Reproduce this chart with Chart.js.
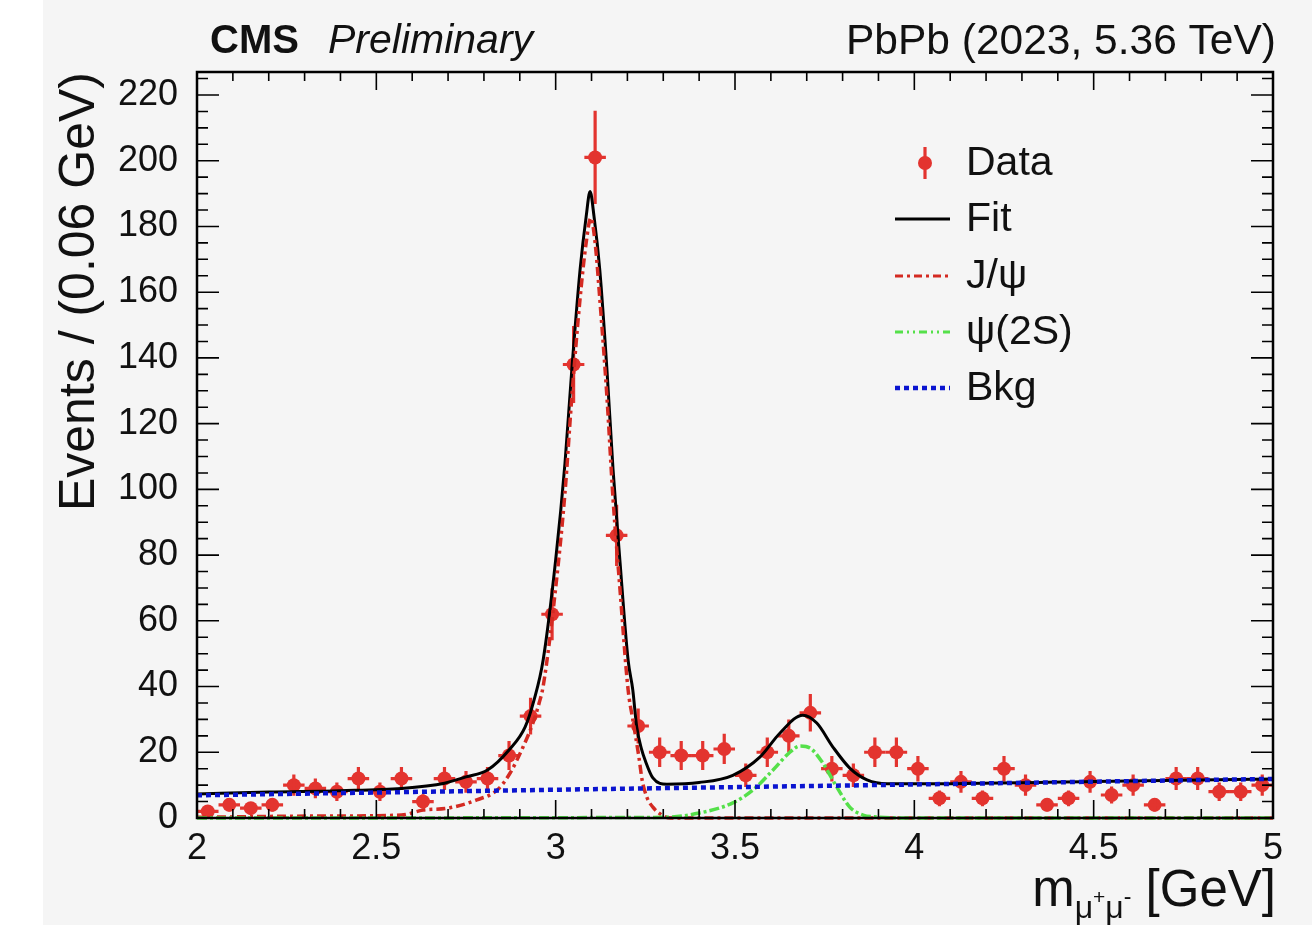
<!DOCTYPE html>
<html><head><meta charset="utf-8">
<script src="https://cdn.jsdelivr.net/npm/chart.js@4.4.0/dist/chart.umd.min.js"></script>
<style>
html,body{margin:0;padding:0;background:#fff;}
canvas{display:block;}
</style></head><body>
<canvas id="c" width="1312" height="925"></canvas>
<script>
// ---- data ----
const binCenters = [2.03,2.09,2.15,2.21,2.27,2.33,2.39,2.45,2.51,2.57,2.63,2.69,2.75,2.81,2.87,2.93,2.99,3.05,3.11,3.17,3.23,3.29,3.35,3.41,3.47,3.53,3.59,3.65,3.71,3.77,3.83,3.89,3.95,4.01,4.07,4.13,4.19,4.25,4.31,4.37,4.43,4.49,4.55,4.61,4.67,4.73,4.79,4.85,4.91,4.97];
const dataCounts = [2,4,3,4,10,9,8,12,8,12,5,12,11,12,19,31,62,138,201,86,28,20,19,19,21,13,20,25,32,15,13,20,20,15,6,11,6,15,10,4,6,11,7,10,4,12,12,8,8,10];
const dataErrors = [1.4,2,1.7,2,3.2,3,2.8,3.5,2.8,3.5,2.2,3.5,3.3,3.5,4.4,5.6,7.9,11.7,14.2,9.3,5.3,4.5,4.4,4.4,4.6,3.6,4.5,5,5.7,3.9,3.6,4.5,4.5,3.9,2.4,3.3,2.4,3.9,3.2,2,2.4,3.3,2.6,3.2,2,3.5,3.5,2.8,2.8,3.2];
const binHalfWidth = 0.03;

const fitX = [2.00,2.20,2.40,2.57,2.69,2.75,2.81,2.87,2.915,2.94,2.965,3.00,3.026,3.045,3.068,3.085,3.096,3.107,3.123,3.143,3.160,3.179,3.202,3.215,3.226,3.240,3.249,3.271,3.31,3.40,3.494,3.57,3.625,3.689,3.728,3.773,3.82,3.868,3.924,4.00,4.50,5.00];
const fitY = [7.3,7.9,8.3,9.0,10.6,12.5,14.6,20.7,27.7,36,48,78.5,108,136.4,166.8,183,190.6,183,166.8,136.4,106,78.5,48,39,27.7,20.7,17.7,12.2,10.3,10.8,13,18.6,25.8,31.3,28.9,21.6,15.2,11.6,10.4,10.4,11.1,11.9];

const jpsiX = [2.00,2.33,2.57,2.63,2.70,2.78,2.837,2.873,2.909,2.937,2.954,2.965,3.00,3.026,3.045,3.068,3.085,3.098,3.110,3.123,3.143,3.160,3.179,3.202,3.215,3.232,3.241,3.254,3.271,3.296,3.32,4.00,5.00];
const jpsiY = [0.2,0.6,0.9,2.4,3.0,5.5,8.5,13.7,21.6,29,35,40,70,99,128,158,175,182.6,175,158,128,97,70,39,30,18.6,11.6,6.4,3.3,0.9,0,0,0];

const psiX = [2.00,3.30,3.40,3.494,3.55,3.606,3.653,3.681,3.709,3.745,3.784,3.82,3.857,3.896,4.00,5.00];
const psiY = [0,0.2,1.5,4.6,8.5,14.6,20,21.9,21.3,16.7,9.4,3.3,0.9,0.3,0,0];

const bkgX = [2,3,4,5];
const bkgY = [6.9,8.6,10.2,11.9];

const xTickValues = [2,2.5,3,3.5,4,4.5,5];
const yTickValues = [0,20,40,60,80,100,120,140,160,180,200,220];
const legendLabels = ['Data','Fit','J/\u03C8','\u03C8(2S)','Bkg'];

// ---- styles ----
const FONT = '"Liberation Sans", Arial, Helvetica, sans-serif';
const RED = '#e3342f';
const JPSI_C = '#d42a22';
const GREEN = '#55e04a';
const BLUE = '#0a14d0';
const BG = '#f5f5f5';

const pts = (xs, ys) => xs.map((x, i) => ({x, y: ys[i]}));

const bgPlugin = {
  id: 'bg',
  beforeDraw(chart) {
    const c = chart.ctx;
    c.save();
    c.fillStyle = '#ffffff';
    c.fillRect(0, 0, chart.width, chart.height);
    c.fillStyle = BG;
    c.fillRect(43, 0, chart.width - 43, chart.height);
    c.restore();
  }
};

const errPlugin = {
  id: 'errbars',
  afterDatasetDraw(chart, args) {
    if (args.index !== 0) return;
    const c = chart.ctx, xs = chart.scales.x, ys = chart.scales.y;
    c.save();
    c.strokeStyle = RED;
    c.lineWidth = 3.2;
    binCenters.forEach((x, i) => {
      const px = xs.getPixelForValue(x), py = ys.getPixelForValue(dataCounts[i]);
      const e = dataErrors[i];
      c.beginPath();
      c.moveTo(px, ys.getPixelForValue(dataCounts[i] - e));
      c.lineTo(px, ys.getPixelForValue(dataCounts[i] + e));
      c.moveTo(xs.getPixelForValue(x - binHalfWidth), py);
      c.lineTo(xs.getPixelForValue(x + binHalfWidth), py);
      c.stroke();
    });
    c.restore();
  }
};

const framePlugin = {
  id: 'frame',
  afterDatasetsDraw(chart) {
    const c = chart.ctx, a = chart.chartArea, xs = chart.scales.x, ys = chart.scales.y;
    c.save();
    c.strokeStyle = '#000';
    c.lineWidth = 2.5;
    c.strokeRect(a.left, a.top, a.right - a.left, a.bottom - a.top);
    c.lineWidth = 1.6;
    c.beginPath();
    // x ticks (bottom and top), minor every 0.1, major every 0.5
    for (let k = 0; k <= 30; k++) {
      const v = 2 + k * 0.1;
      const px = xs.getPixelForValue(v);
      const len = (k % 5 === 0) ? 18 : 9;
      c.moveTo(px, a.bottom); c.lineTo(px, a.bottom - len);
      c.moveTo(px, a.top); c.lineTo(px, a.top + len);
    }
    // y ticks (left and right), minor every 5, major every 20
    for (let k = 0; k <= 45; k++) {
      const v = k * 5;
      const py = ys.getPixelForValue(v);
      const len = (k % 4 === 0) ? 22 : 11;
      c.moveTo(a.left, py); c.lineTo(a.left + len, py);
      c.moveTo(a.right, py); c.lineTo(a.right - len, py);
    }
    c.stroke();
    c.restore();
  }
};

const textPlugin = {
  id: 'texts',
  afterDraw(chart) {
    const c = chart.ctx;
    c.save();
    c.fillStyle = '#111';
    c.textBaseline = 'alphabetic';
    // header
    c.font = 'bold 40px ' + FONT;
    c.textAlign = 'left';
    c.fillText('CMS', 210, 53);
    c.font = 'italic 41px ' + FONT;
    c.fillText('Preliminary', 328, 53);
    c.font = '42.5px ' + FONT;
    c.textAlign = 'right';
    c.fillText('PbPb (2023, 5.36 TeV)', 1276, 54);

    // x-axis title: m_{mu+mu-} [GeV]
    const parts = [
      {t: 'm', f: '51px ', dy: 0},
      {t: '\u03BC', f: '32px ', dy: 12},
      {t: '+', f: '21px ', dy: -2},
      {t: '\u03BC', f: '32px ', dy: 12},
      {t: '-', f: '23px ', dy: -2},
      {t: ' [GeV]', f: '51px ', dy: 0}
    ];
    let total = 0;
    parts.forEach(p => { c.font = p.f + FONT; p.w = c.measureText(p.t).width; total += p.w; });
    let x = 1276 - total;
    const base = 906;
    c.textAlign = 'left';
    parts.forEach(p => { c.font = p.f + FONT; c.fillText(p.t, x, base + p.dy); x += p.w; });

    // legend
    const lx0 = 895, lx1 = 950, tx = 966;
    const rows = [163, 219, 276, 332, 388];
    c.font = '41px ' + FONT;
    c.textBaseline = 'middle';
    legendLabels.forEach((lab, i) => { c.fillText(lab, tx, rows[i] + 1); });
    // Data symbol
    c.strokeStyle = RED; c.fillStyle = RED; c.lineWidth = 3.2;
    c.beginPath(); c.moveTo(925, rows[0] - 16); c.lineTo(925, rows[0] + 16); c.stroke();
    c.beginPath(); c.arc(925, rows[0], 7, 0, Math.PI * 2); c.fill();
    // Fit
    c.strokeStyle = '#000'; c.lineWidth = 3; c.setLineDash([]);
    c.beginPath(); c.moveTo(lx0, rows[1]); c.lineTo(lx1, rows[1]); c.stroke();
    // J/psi
    c.strokeStyle = JPSI_C; c.lineWidth = 3; c.setLineDash([8, 4, 3, 4]);
    c.beginPath(); c.moveTo(lx0, rows[2]); c.lineTo(lx1, rows[2]); c.stroke();
    // psi(2S)
    c.strokeStyle = GREEN; c.setLineDash([8, 4, 2, 4, 2, 4]);
    c.beginPath(); c.moveTo(lx0, rows[3]); c.lineTo(lx1, rows[3]); c.stroke();
    // Bkg
    c.strokeStyle = BLUE; c.lineWidth = 4.5; c.setLineDash([5, 4]);
    c.beginPath(); c.moveTo(lx0, rows[4]); c.lineTo(lx1, rows[4]); c.stroke();
    c.restore();
  }
};

const curve = (label, xs, ys, color, width, dash, order) => ({
  label, data: pts(xs, ys), showLine: true, borderColor: color, borderWidth: width,
  borderDash: dash, pointRadius: 0, fill: false, cubicInterpolationMode: 'monotone',
  order, clip: {left: 0, top: 0, right: 0, bottom: 3}
});

new Chart(document.getElementById('c'), {
  type: 'scatter',
  data: {
    datasets: [
      {label: 'Data', data: pts(binCenters, dataCounts), pointRadius: 7, pointBackgroundColor: RED,
       pointBorderWidth: 0, pointHoverRadius: 7, showLine: false, order: 10},
      curve('Fit', fitX, fitY, '#000', 3, [], 4),
      curve('J/psi', jpsiX, jpsiY, JPSI_C, 3.5, [9, 4, 3, 4], 3),
      curve('psi(2S)', psiX, psiY, GREEN, 3.5, [10, 3, 3, 3], 2),
      curve('Bkg', bkgX, bkgY, BLUE, 4.5, [5, 4], 1)
    ]
  },
  options: {
    responsive: false, animation: false, devicePixelRatio: 1,
    layout: {padding: {top: 72, right: 39, left: 0, bottom: 0}},
    plugins: {legend: {display: false}, tooltip: {enabled: false}},
    scales: {
      x: {
        type: 'linear', min: 2, max: 5,
        afterBuildTicks: s => { s.ticks = xTickValues.map(v => ({value: v})); },
        afterFit: s => { s.height = 107; },
        ticks: {font: {family: FONT, size: 36}, color: '#111', padding: 9, maxRotation: 0,
                autoSkip: false, callback: v => String(v)},
        grid: {display: false, drawTicks: false},
        border: {display: false}
      },
      y: {
        type: 'linear', min: 0, max: 227,
        afterBuildTicks: s => { s.ticks = yTickValues.map(v => ({value: v})); },
        afterFit: s => { s.width = 197; },
        ticks: {font: {family: FONT, size: 36}, color: '#111', padding: 19, autoSkip: false,
                callback: v => String(v)},
        grid: {display: false, drawTicks: false},
        border: {display: false},
        title: {display: true, text: 'Events / (0.06 GeV)', align: 'end', color: '#111',
                font: {family: FONT, size: 50}, padding: {top: 50, bottom: 0}}
      }
    }
  },
  plugins: [bgPlugin, errPlugin, framePlugin, textPlugin]
});
</script>
</body></html>
